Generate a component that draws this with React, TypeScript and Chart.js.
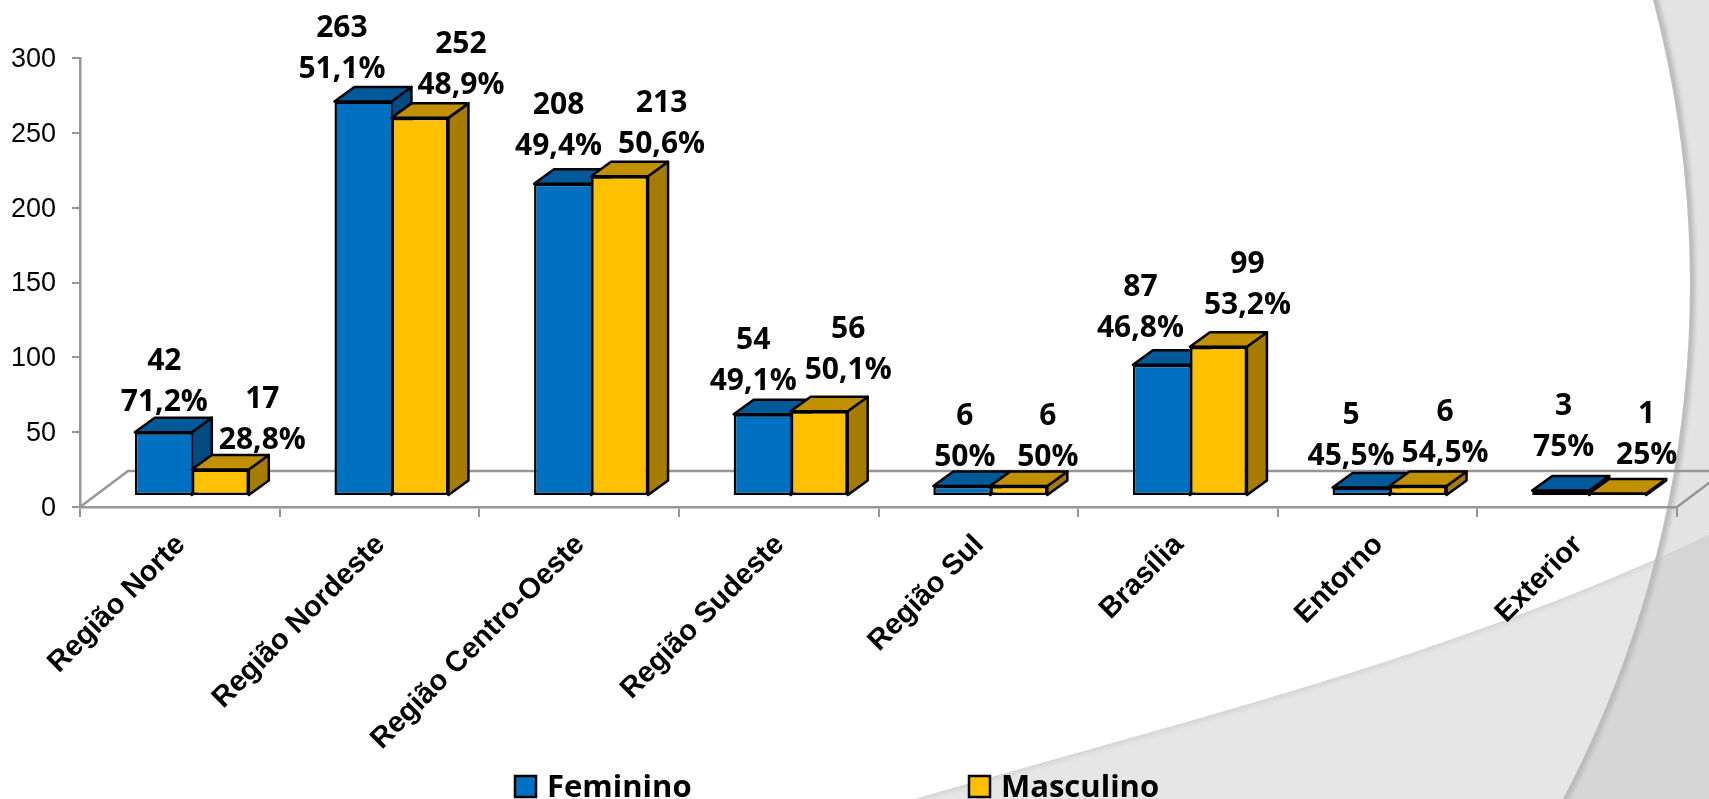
import React, { useEffect, useRef } from "react";
import { Chart, registerables } from "chart.js";

Chart.register(...registerables);

const categories = ["Região Norte", "Região Nordeste", "Região Centro-Oeste", "Região Sudeste", "Região Sul", "Brasília", "Entorno", "Exterior"];
const feminino = [42, 263, 208, 54, 6, 87, 5, 3];
const masculino = [17, 252, 213, 56, 6, 99, 6, 1];
const femininoPct = ["71,2%", "51,1%", "49,4%", "49,1%", "50%", "46,8%", "45,5%", "75%"];
const masculinoPct = ["28,8%", "48,9%", "50,6%", "50,1%", "50%", "53,2%", "54,5%", "25%"];

// Hand placement of the data labels, relative to each bar's top centre.
const femLabelDx = [1, -21, -4, -9, 3, -21, -10, 3];
const femLabelDy = [-30, -32, -37, -33, -29, -36, -31, -43];
const mascLabelDx = [42, 41, 42, 29, 29, 29, 27, 29];
const mascLabelDy = [-29, -32, -32, -41, -29, -41, -33, -38];

const GREY = "#969696";
const DEPTH_X = 20;
const DEPTH_Y = 14.5;
const FRONT_SHIFT = 12;
const shades = [
  { top: "#005a9a", side: "#004c82" },
  { top: "#c09000", side: "#a67c00" },
];

const backdrop = {
  id: "backdrop",
  beforeDraw(chart: any) {
    const { ctx, width, height } = chart;
    const cx = 582, cy = 284, R = 1108;
    const curve = (p: any) => {
      p.moveTo(width, 535);
      p.bezierCurveTo(1444, 660, 1180, 722, 915, height);
    };
    const below = () => {
      const p = new Path2D();
      curve(p);
      p.lineTo(width, height);
      p.closePath();
      return p;
    };
    const outside = () => {
      const p = new Path2D();
      p.rect(0, 0, width, height);
      p.arc(cx, cy, R, 0, Math.PI * 2);
      return p;
    };
    ctx.save();
    ctx.fillStyle = "#ffffff";
    ctx.fillRect(0, 0, width, height);
    ctx.fillStyle = "#e6e6e6";
    ctx.fill(below());
    ctx.fillStyle = "#e3e3e3";
    ctx.fill(outside(), "evenodd");
    ctx.save();
    ctx.clip(below());
    ctx.fillStyle = "#d6d6d6";
    ctx.fill(outside(), "evenodd");
    ctx.restore();

    ctx.save();
    ctx.clip(below());
    ctx.filter = "blur(2px)";
    ctx.strokeStyle = "#d4d4d4";
    ctx.lineWidth = 6;
    ctx.beginPath();
    curve(ctx);
    ctx.stroke();
    ctx.restore();

    ctx.save();
    ctx.clip(outside(), "evenodd");
    ctx.filter = "blur(2px)";
    ctx.strokeStyle = "#bababa";
    ctx.lineWidth = 8;
    ctx.beginPath();
    ctx.arc(cx, cy, R + 1, 0, Math.PI * 2);
    ctx.stroke();
    ctx.restore();
    ctx.restore();
  },
};

const floor3d = {
  id: "floor3d",
  beforeDatasetsDraw(chart: any) {
    const { ctx, chartArea } = chart;
    const { left, right, bottom } = chartArea;
    const dx = 48, dy = 36;
    ctx.save();
    ctx.strokeStyle = GREY;
    ctx.lineWidth = 2.5;
    ctx.beginPath();
    ctx.moveTo(left, bottom);
    ctx.lineTo(left + dx, bottom - dy);
    ctx.lineTo(right + dx, bottom - dy);
    ctx.lineTo(right, bottom);
    ctx.stroke();
    ctx.restore();
  },
};

const bars3d = {
  id: "bars3d",
  beforeDatasetDraw() {
    return false;
  },
  afterDatasetsDraw(chart: any) {
    const { ctx } = chart;
    ctx.save();
    ctx.translate(FRONT_SHIFT, 0);
    [0, 1].forEach((d) => {
      const meta = chart.getDatasetMeta(d);
      meta.data.forEach((bar: any) => {
        const l = bar.x - bar.width / 2;
        const r = bar.x + bar.width / 2;
        const t = bar.y;
        const b = bar.base;
        ctx.lineWidth = 2.5;
        ctx.lineJoin = "round";
        ctx.strokeStyle = "#000000";
        ctx.fillStyle = shades[d].side;
        ctx.beginPath();
        ctx.moveTo(r, t);
        ctx.lineTo(r + DEPTH_X, t - DEPTH_Y);
        ctx.lineTo(r + DEPTH_X, b - DEPTH_Y);
        ctx.lineTo(r, b);
        ctx.closePath();
        ctx.fill();
        ctx.stroke();
        ctx.fillStyle = shades[d].top;
        ctx.beginPath();
        ctx.moveTo(l, t);
        ctx.lineTo(l + DEPTH_X, t - DEPTH_Y);
        ctx.lineTo(r + DEPTH_X, t - DEPTH_Y);
        ctx.lineTo(r, t);
        ctx.closePath();
        ctx.fill();
        ctx.stroke();
        bar.draw(ctx);
      });
    });
    ctx.restore();
  },
};

const barLabels = {
  id: "barLabels",
  afterDraw(chart: any) {
    const { ctx } = chart;
    const sets = [
      { values: feminino, pct: femininoPct, dx: femLabelDx, dy: femLabelDy },
      { values: masculino, pct: masculinoPct, dx: mascLabelDx, dy: mascLabelDy },
    ];
    ctx.save();
    ctx.fillStyle = "#000000";
    ctx.textAlign = "center";
    ctx.textBaseline = "middle";
    ctx.font = 'bold 30px "Open Sans"';
    sets.forEach((s, d) => {
      chart.getDatasetMeta(d).data.forEach((bar: any, i: number) => {
        const x = bar.x + FRONT_SHIFT + s.dx[i];
        const y = bar.y + s.dy[i];
        ctx.fillText(s.pct[i], x, y);
        ctx.fillText(String(s.values[i]), x, y - 41);
      });
    });
    ctx.restore();
  },
};

const bottomLegend = {
  id: "bottomLegend",
  afterDraw(chart: any) {
    const { ctx } = chart;
    const slots = [515, 969];
    ctx.save();
    ctx.font = 'bold 31px "Open Sans"';
    ctx.textBaseline = "alphabetic";
    ctx.textAlign = "left";
    chart.data.datasets.forEach((ds: any, i: number) => {
      const x = slots[i];
      ctx.fillStyle = ds.backgroundColor;
      ctx.strokeStyle = "#000000";
      ctx.lineWidth = 2.5;
      ctx.fillRect(x, 776, 21, 21);
      ctx.strokeRect(x, 776, 21, 21);
      ctx.fillStyle = "#000000";
      ctx.fillText(ds.label, x + 32, 797);
    });
    ctx.restore();
  },
};

export default function App() {
  const ref = useRef<HTMLCanvasElement | null>(null);
  useEffect(() => {
    document.body.style.margin = "0";
    const chart = new Chart(ref.current as HTMLCanvasElement, {
      type: "bar",
      data: {
        labels: categories,
        datasets: [
          {
            label: "Feminino",
            data: feminino,
            backgroundColor: "#0070c0",
            borderColor: "#000000",
            borderSkipped: false,
            borderWidth: { top: 2.5, right: 0, bottom: 2.5, left: 2.5 },
            yAxisID: "yb",
          },
          {
            label: "Masculino",
            data: masculino,
            backgroundColor: "#ffc000",
            borderColor: "#000000",
            borderSkipped: false,
            borderWidth: 2.5,
            yAxisID: "yb",
          },
        ],
      },
      options: {
        responsive: false,
        animation: false,
        layout: { autoPadding: false, padding: { top: 58, right: 32, left: 0, bottom: 0 } },
        datasets: { bar: { categoryPercentage: 0.571, barPercentage: 1 } },
        plugins: { legend: { display: false }, tooltip: { enabled: false }, title: { display: false } },
        scales: {
          x: {
            afterFit: (s: any) => { s.height = 292; },
            grid: { drawOnChartArea: false, drawTicks: true, tickLength: 10, color: GREY, lineWidth: 2 },
            border: { color: GREY, width: 2.5 },
            ticks: {
              autoSkip: false,
              maxRotation: 45,
              minRotation: 45,
              padding: 11,
              labelOffset: 1,
              color: "#000000",
              font: { family: '"Liberation Sans"', size: 29, weight: "bold" },
            },
          },
          y: {
            min: 0,
            max: 300,
            afterFit: (s: any) => { s.width = 80; },
            grid: { drawOnChartArea: false, drawTicks: true, tickLength: 8, color: GREY, lineWidth: 2 },
            border: { color: GREY, width: 2.5 },
            ticks: {
              stepSize: 50,
              padding: 16,
              labelOffset: 1.5,
              color: "#000000",
              font: { family: '"Liberation Sans"', size: 27 },
            },
          },
          yb: { display: false, min: -8, max: 292 },
        },
      },
      plugins: [backdrop, floor3d, bars3d, barLabels, bottomLegend],
    } as any);
    return () => chart.destroy();
  }, []);
  return <canvas ref={ref} width={1709} height={799} style={{ display: "block" }} />;
}
